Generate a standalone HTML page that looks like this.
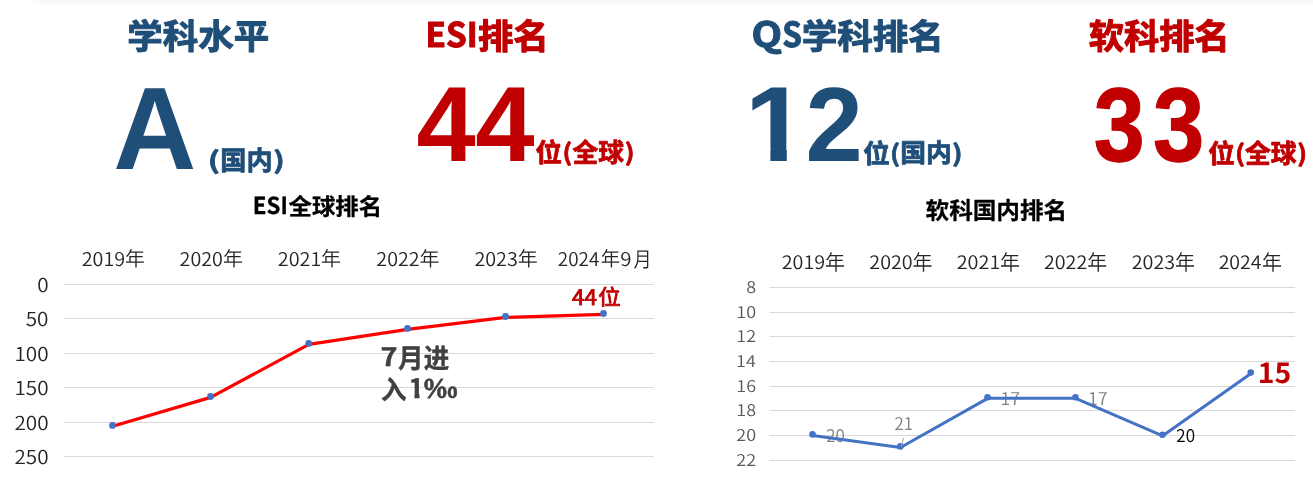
<!DOCTYPE html>
<html lang="zh-CN">
<head>
<meta charset="utf-8">
<title>学科排名</title>
<style>
html,body{margin:0;padding:0;background:#fff;}
body{width:1313px;height:483px;overflow:hidden;position:relative;}
svg{position:absolute;left:0;top:0;display:block;}
text.n{font-family:"Noto Sans CJK SC","Liberation Sans",sans-serif;}
text.l{font-family:"Liberation Sans","Noto Sans CJK SC",sans-serif;}
text{text-rendering:geometricPrecision;}
text.b{font-weight:700;}
text.a{font-weight:350;}
text.r{font-weight:400;}
.grid line{stroke:#d9d9d9;stroke-width:1;}
</style>
</head>
<body>
<svg width="1313" height="483" viewBox="0 0 1313 483">
<defs>
<linearGradient id="topsh" x1="0" y1="0" x2="0" y2="1"><stop offset="0" stop-color="#f6f6f6"/><stop offset="1" stop-color="#ffffff"/></linearGradient>
<linearGradient id="topfade" x1="0" y1="0" x2="1" y2="0"><stop offset="0" stop-color="#ffffff" stop-opacity="1"/><stop offset="1" stop-color="#ffffff" stop-opacity="0"/></linearGradient>
<clipPath id="one" clipPathUnits="userSpaceOnUse"><rect x="752.4" y="80" width="38" height="68.4"/><rect x="770.4" y="148" width="16.4" height="15"/></clipPath>
<clipPath id="one2" clipPathUnits="userSpaceOnUse"><rect x="404" y="374" width="18" height="20"/><rect x="414.5" y="393.9" width="5" height="6"/></clipPath>
</defs>
<rect x="28" y="0" width="1285" height="6" fill="url(#topsh)"/>
<rect x="28" y="0" width="14" height="6" fill="url(#topfade)"/>
<!-- headings, values, titles -->
<text class="n b" transform="translate(127.33,49.0) scale(1.0206,1)" font-size="34.74" fill="#1f4e79" stroke="#1f4e79" stroke-width="0.03em" stroke-linejoin="round">学科水平</text>
<text class="n b" transform="translate(425.61,47.0) scale(0.9834,1)" font-size="33.77" fill="#c00000" stroke="#c00000" stroke-width="0.03em" stroke-linejoin="round">ESI</text>
<text class="n b" transform="translate(477.97,49.0) scale(1.014,1)" font-size="34.94" fill="#c00000" stroke="#c00000" stroke-width="0.03em" stroke-linejoin="round">排名</text>
<text class="n b" transform="translate(751.51,47.0) scale(1.1456,1)" font-size="34.68" fill="#1f4e79" stroke="#1f4e79" stroke-width="0.03em" stroke-linejoin="round">Q</text>
<text class="n b" transform="translate(782.31,47.0) scale(0.9137,1)" font-size="34.55" fill="#1f4e79" stroke="#1f4e79" stroke-width="0.03em" stroke-linejoin="round">S</text>
<text class="n b" transform="translate(801.68,49.0) scale(1.0237,1)" font-size="34.74" fill="#1f4e79" stroke="#1f4e79" stroke-width="0.03em" stroke-linejoin="round">学科排名</text>
<text class="n b" transform="translate(1088.75,49.0) scale(1.0092,1)" font-size="34.94" fill="#c00000" stroke="#c00000" stroke-width="0.03em" stroke-linejoin="round">软科排名</text>
<text class="l b" transform="translate(113.13,169.0) scale(0.9792,1)" font-size="117.37" fill="#1f4e79">A</text>
<text class="l b" transform="translate(416.5,161.0) scale(0.9966,1)" font-size="106.72" fill="#c00000">4</text>
<text class="l b" transform="translate(475.3,161.0) scale(1.0001,1)" font-size="106.72" fill="#c00000">4</text>
<text class="l b" transform="translate(805.5,161.0) scale(0.9735,1)" font-size="105.71" fill="#1f4e79">2</text>
<text class="l b" transform="translate(1093.77,161.0) scale(0.8735,1)" font-size="104.96" fill="#c00000" stroke="#c00000" stroke-width="0.011em" stroke-linejoin="round">3</text>
<text class="l b" transform="translate(1153.05,161.0) scale(0.8791,1)" font-size="104.96" fill="#c00000" stroke="#c00000" stroke-width="0.011em" stroke-linejoin="round">3</text>
<text class="n b" transform="translate(207.73,169.0) scale(1.3603,1)" font-size="23.82" fill="#1f4e79" stroke="#1f4e79" stroke-width="0.03em" stroke-linejoin="round">(</text>
<text class="n b" transform="translate(220.34,170.0) scale(0.9752,1)" font-size="26.71" fill="#1f4e79" stroke="#1f4e79" stroke-width="0.03em" stroke-linejoin="round">国内</text>
<text class="n b" transform="translate(273.34,169.0) scale(1.2745,1)" font-size="23.82" fill="#1f4e79" stroke="#1f4e79" stroke-width="0.03em" stroke-linejoin="round">)</text>
<text class="n b" transform="translate(535.6,162.0) scale(1.0116,1)" font-size="26.14" fill="#c00000" stroke="#c00000" stroke-width="0.03em" stroke-linejoin="round">位</text>
<text class="n b" transform="translate(562.62,161.0) scale(1.0782,1)" font-size="23.53" fill="#c00000" stroke="#c00000" stroke-width="0.03em" stroke-linejoin="round">(</text>
<text class="n b" transform="translate(572.5,162.0) scale(0.9796,1)" font-size="26.29" fill="#c00000" stroke="#c00000" stroke-width="0.03em" stroke-linejoin="round">全球</text>
<text class="n b" transform="translate(624.69,161.0) scale(1.105,1)" font-size="23.53" fill="#c00000" stroke="#c00000" stroke-width="0.03em" stroke-linejoin="round">)</text>
<text class="n b" transform="translate(863.2,163.0) scale(1.0176,1)" font-size="26.14" fill="#1f4e79" stroke="#1f4e79" stroke-width="0.03em" stroke-linejoin="round">位</text>
<text class="n b" transform="translate(890.12,162.0) scale(1.1355,1)" font-size="23.65" fill="#1f4e79" stroke="#1f4e79" stroke-width="0.03em" stroke-linejoin="round">(</text>
<text class="n b" transform="translate(900.21,162.0) scale(1.001,1)" font-size="25.72" fill="#1f4e79" stroke="#1f4e79" stroke-width="0.03em" stroke-linejoin="round">国内</text>
<text class="n b" transform="translate(952.01,162.0) scale(1.1918,1)" font-size="23.65" fill="#1f4e79" stroke="#1f4e79" stroke-width="0.03em" stroke-linejoin="round">)</text>
<text class="n b" transform="translate(1208.2,163.0) scale(1.0176,1)" font-size="26.14" fill="#c00000" stroke="#c00000" stroke-width="0.03em" stroke-linejoin="round">位</text>
<text class="n b" transform="translate(1235.12,162.0) scale(1.1355,1)" font-size="23.65" fill="#c00000" stroke="#c00000" stroke-width="0.03em" stroke-linejoin="round">(</text>
<text class="n b" transform="translate(1245.1,163.0) scale(0.9754,1)" font-size="26.4" fill="#c00000" stroke="#c00000" stroke-width="0.03em" stroke-linejoin="round">全球</text>
<text class="n b" transform="translate(1297.29,162.0) scale(1.0995,1)" font-size="23.65" fill="#c00000" stroke="#c00000" stroke-width="0.03em" stroke-linejoin="round">)</text>
<text class="n b" transform="translate(252.85,214.0) scale(0.9584,1)" font-size="23.29" fill="#000" stroke="#000" stroke-width="0.012em" stroke-linejoin="round">ESI</text>
<text class="n b" transform="translate(288.52,215.0) scale(1.0,1)" font-size="23.41" fill="#000" stroke="#000" stroke-width="0.012em" stroke-linejoin="round">全球排名</text>
<text class="n b" transform="translate(925.53,219.0) scale(1.0027,1)" font-size="23.55" fill="#000" stroke="#000" stroke-width="0.012em" stroke-linejoin="round">软科国内排名</text>
<g clip-path="url(#one)"><text class="l b" transform="translate(743.53,161.2) scale(1.08,1)" font-size="107.0" fill="#1f4e79">1</text></g>
<!-- gridlines -->
<g class="grid"><line x1="64.4" x2="653.8" y1="284.5" y2="284.5"/><line x1="64.4" x2="653.8" y1="318.5" y2="318.5"/><line x1="64.4" x2="653.8" y1="353.5" y2="353.5"/><line x1="64.4" x2="653.8" y1="387.5" y2="387.5"/><line x1="64.4" x2="653.8" y1="422.5" y2="422.5"/><line x1="64.4" x2="653.8" y1="456.5" y2="456.5"/><line x1="769.7" x2="1295" y1="287.5" y2="287.5"/><line x1="769.7" x2="1295" y1="312.5" y2="312.5"/><line x1="769.7" x2="1295" y1="336.5" y2="336.5"/><line x1="769.7" x2="1295" y1="361.5" y2="361.5"/><line x1="769.7" x2="1295" y1="386.5" y2="386.5"/><line x1="769.7" x2="1295" y1="410.5" y2="410.5"/><line x1="769.7" x2="1295" y1="435.5" y2="435.5"/><line x1="769.7" x2="1295" y1="460.5" y2="460.5"/></g>
<!-- axis + data labels -->
<text class="n a" transform="translate(81.73,266.0) scale(1.042,1)" font-size="18.97" fill="#262626">2019</text>
<text class="n a" transform="translate(125.02,266.0) scale(0.9882,1)" font-size="20.24" fill="#262626">年</text>
<text class="n a" transform="translate(179.59,266.0) scale(1.0395,1)" font-size="18.97" fill="#262626">2020</text>
<text class="n a" transform="translate(222.88,266.0) scale(0.9882,1)" font-size="20.24" fill="#262626">年</text>
<text class="n a" transform="translate(277.83,266.0) scale(1.047,1)" font-size="18.97" fill="#262626">2021</text>
<text class="n a" transform="translate(321.12,266.0) scale(0.9882,1)" font-size="20.24" fill="#262626">年</text>
<text class="n a" transform="translate(376.34,266.0) scale(1.0395,1)" font-size="18.97" fill="#262626">2022</text>
<text class="n a" transform="translate(419.62,266.0) scale(0.9882,1)" font-size="20.24" fill="#262626">年</text>
<text class="n a" transform="translate(474.43,266.0) scale(1.042,1)" font-size="18.97" fill="#262626">2023</text>
<text class="n a" transform="translate(517.72,266.0) scale(0.9882,1)" font-size="20.24" fill="#262626">年</text>
<text class="n a" transform="translate(557.77,266.0) scale(0.9975,1)" font-size="18.97" fill="#262626">2024</text>
<text class="n a" transform="translate(600.75,266.0) scale(0.9608,1)" font-size="20.24" fill="#262626">年</text>
<text class="n a" transform="translate(620.31,266.0) scale(1.078,1)" font-size="18.97" fill="#262626">9</text>
<text class="n a" transform="translate(633.39,267.0) scale(0.8523,1)" font-size="21.21" fill="#262626">月</text>
<text class="n a" transform="translate(781.73,269.0) scale(1.0613,1)" font-size="18.62" fill="#262626">2019</text>
<text class="n a" transform="translate(825.02,270.0) scale(0.9465,1)" font-size="21.13" fill="#262626">年</text>
<text class="n a" transform="translate(869.34,269.0) scale(1.0588,1)" font-size="18.62" fill="#262626">2020</text>
<text class="n a" transform="translate(912.62,270.0) scale(0.9465,1)" font-size="21.13" fill="#262626">年</text>
<text class="n a" transform="translate(956.73,269.0) scale(1.0664,1)" font-size="18.62" fill="#262626">2021</text>
<text class="n a" transform="translate(1000.02,270.0) scale(0.9465,1)" font-size="21.13" fill="#262626">年</text>
<text class="n a" transform="translate(1043.94,269.0) scale(1.0588,1)" font-size="18.62" fill="#262626">2022</text>
<text class="n a" transform="translate(1087.22,270.0) scale(0.9465,1)" font-size="21.13" fill="#262626">年</text>
<text class="n a" transform="translate(1131.73,269.0) scale(1.0613,1)" font-size="18.62" fill="#262626">2023</text>
<text class="n a" transform="translate(1175.03,270.0) scale(0.9465,1)" font-size="21.13" fill="#262626">年</text>
<text class="n a" transform="translate(1218.64,269.0) scale(1.0488,1)" font-size="18.62" fill="#262626">2024</text>
<text class="n a" transform="translate(1261.92,270.0) scale(0.9465,1)" font-size="21.13" fill="#262626">年</text>
<text class="n a" transform="translate(37.15,292.0) scale(1.08,1)" font-size="19.17" fill="#262626">0</text>
<text class="n a" transform="translate(25.76,326.0) scale(1.08,1)" font-size="19.17" fill="#262626">50</text>
<text class="n a" transform="translate(14.47,361.0) scale(1.08,1)" font-size="19.17" fill="#262626">100</text>
<text class="n a" transform="translate(14.47,395.0) scale(1.08,1)" font-size="19.17" fill="#262626">150</text>
<text class="n a" transform="translate(14.47,430.0) scale(1.08,1)" font-size="19.17" fill="#262626">200</text>
<text class="n a" transform="translate(14.47,464.0) scale(1.08,1)" font-size="19.17" fill="#262626">250</text>
<text class="n a" transform="translate(746.17,293.0) scale(1.11,1)" font-size="16.21" fill="#595959">8</text>
<text class="n a" transform="translate(736.36,318.0) scale(1.11,1)" font-size="16.21" fill="#595959">10</text>
<text class="n a" transform="translate(736.36,342.0) scale(1.11,1)" font-size="16.21" fill="#595959">12</text>
<text class="n a" transform="translate(736.09,367.0) scale(1.11,1)" font-size="16.21" fill="#595959">14</text>
<text class="n a" transform="translate(736.27,392.0) scale(1.11,1)" font-size="16.21" fill="#595959">16</text>
<text class="n a" transform="translate(736.36,416.0) scale(1.11,1)" font-size="16.21" fill="#595959">18</text>
<text class="n a" transform="translate(736.36,441.0) scale(1.11,1)" font-size="16.21" fill="#595959">20</text>
<text class="n a" transform="translate(736.36,466.0) scale(1.11,1)" font-size="16.21" fill="#595959">22</text>
<text class="n a" transform="translate(826.22,442.0) scale(0.9742,1)" font-size="17.38" fill="#7f7f7f">20</text>
<text class="n a" transform="translate(894.58,430.0) scale(0.9563,1)" font-size="17.59" fill="#7f7f7f">21</text>
<text class="n a" transform="translate(1000.38,405.0) scale(1.0218,1)" font-size="17.59" fill="#7f7f7f">17</text>
<text class="n a" transform="translate(1087.88,405.0) scale(1.0218,1)" font-size="17.59" fill="#7f7f7f">17</text>
<text class="n a" transform="translate(1176.32,442.0) scale(0.9827,1)" font-size="17.38" fill="#000">20</text>
<!-- series -->
<polyline fill="none" stroke="#ff0000" stroke-width="3.2" stroke-linejoin="round" stroke-linecap="round" points="112.70,426.30 210.70,397.40 308.90,344.30 407.70,329.30 505.70,317.40 603.70,314.40"/>
<g fill="#4472c4"><circle cx="112.5" cy="425.4" r="3.4"/><circle cx="210.5" cy="396.5" r="3.4"/><circle cx="308.7" cy="343.4" r="3.4"/><circle cx="407.5" cy="328.4" r="3.4"/><circle cx="505.5" cy="316.5" r="3.4"/><circle cx="603.5" cy="313.5" r="3.4"/></g>
<polyline fill="none" stroke="#4472c4" stroke-width="3" stroke-linejoin="round" stroke-linecap="round" points="812.70,435.50 900.50,447.50 987.70,398.35 1075.70,398.35 1162.70,435.85 1250.95,373.60"/>
<g fill="#4472c4"><circle cx="812.5" cy="434.4" r="3.3"/><circle cx="900.3" cy="446.4" r="3.3"/><circle cx="987.5" cy="397.25" r="3.3"/><circle cx="1075.5" cy="397.25" r="3.3"/><circle cx="1162.5" cy="434.75" r="3.3"/><circle cx="1250.75" cy="372.5" r="3.3"/></g>
<line x1="903.5" y1="437.8" x2="901.5" y2="446.5" stroke="#a6a6a6" stroke-width="1"/>
<!-- annotations -->
<text class="n r" transform="translate(572.1,305.0) scale(1.055,1)" font-size="21.37" fill="#c00000" stroke="#c00000" stroke-width="0.04em" stroke-linejoin="round">44</text>
<text class="n r" transform="translate(598.16,305.0) scale(1.0332,1)" font-size="21.68" fill="#c00000" stroke="#c00000" stroke-width="0.04em" stroke-linejoin="round">位</text>
<text class="n b" transform="translate(380.6,366.0) scale(1.1347,1)" font-size="25.48" fill="#404040" stroke="#404040" stroke-width="0.015em" stroke-linejoin="round">7</text>
<text class="n b" transform="translate(398.12,368.0) scale(0.9454,1)" font-size="27.02" fill="#404040" stroke="#404040" stroke-width="0.015em" stroke-linejoin="round">月进</text>
<text class="n b" transform="translate(380.96,399.0) scale(0.9951,1)" font-size="25.65" fill="#404040" stroke="#404040" stroke-width="0.015em" stroke-linejoin="round">入</text>
<text class="n b" transform="translate(423.44,398.0) scale(1.3415,1)" font-size="25.66" fill="#404040" stroke="#404040" stroke-width="0.015em" stroke-linejoin="round">‰</text>
<text class="n b" transform="translate(1257.73,383.0) scale(1.0283,1)" font-size="27.64" fill="#c00000">15</text>
<g clip-path="url(#one2)"><text class="n b" transform="translate(408.6,398.1) scale(1,1)" font-size="26.6" fill="#404040" stroke="#404040" stroke-width="0.015em">1</text></g>
</svg>
</body>
</html>
